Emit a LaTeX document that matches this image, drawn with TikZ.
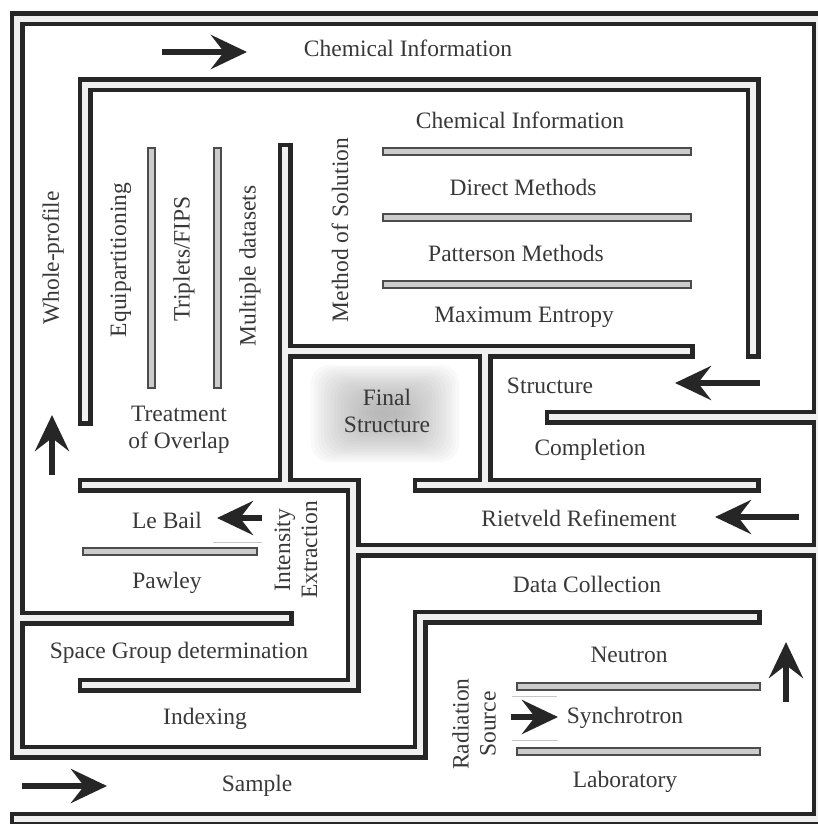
\documentclass[tikz,border=0pt]{standalone}
\usepackage{fontspec}
\setmainfont{Liberation Serif}
\usetikzlibrary{arrows.meta}

% centre lines of the thick maze walls
\newcommand\mazewalls{
  (754,617) -- (420,617) -- (420,752) -- (17,752) -- (17,19) -- (819,19) -- (819,819) -- (17,819)
  (552,417) -- (819,417)
  (85,418) -- (85,85) -- (753,85) -- (753,351)
  (85,485) -- (353,485) -- (353,685) -- (85,685)
  (353,550) -- (819,550)
  (17,618) -- (286,618)
  (285,150) -- (285,485)
  (285,351) -- (687,351)
  (485,351) -- (485,485)
  (420,485) -- (753,485)
}
% centre lines of the thin dividers
\newcommand\mazebars{
  (151,151) -- (151,384)
  (217,151) -- (217,384)
  (386,151) -- (687,151)
  (386,217) -- (687,217)
  (386,284) -- (687,284)
  (86,551) -- (253,551)
  (520,686) -- (756,686)
  (520,751) -- (756,751)
}

\begin{document}
\begin{tikzpicture}[
    x=1pt, y=-1pt,
    wall outer/.style={draw=black!85, line width=15pt, line cap=rect, line join=miter},
    wall inner/.style={draw=gray!12, line width=6.5pt, line cap=rect, line join=miter},
    bar outer/.style={draw=black!70, line width=9pt, line cap=rect},
    bar inner/.style={draw=gray!40, line width=5pt, line cap=rect},
    faint/.style={draw=gray!45, line width=0.8pt},
    arrow/.style={draw=black!85, line width=6pt, -{Stealth[length=36pt, width=34pt, inset=13pt]}},
    txt/.style={font=\fontsize{23.5}{27}\selectfont, text=black!78, inner sep=0pt, align=center},
    vtxt/.style={txt, rotate=90}
]
\useasboundingbox (0,0) rectangle (818,824);

% Glow behind the goal
\foreach \i in {0,...,19}
  \fill[gray!85, opacity=0.05, rounded corners=18pt]
    ({311+\i*3.3},{365+\i*2.2}) rectangle ({459-\i*3.3},{462-\i*2.2});

% Walls
\draw[wall outer] \mazewalls;
\draw[wall inner] \mazewalls;
\draw[bar outer] \mazebars;
\draw[bar inner] \mazebars;

% Faint rules beside the arrows
\draw[faint] (213,542) -- (262,542);
\draw[faint] (512,696) -- (557,696);
\draw[faint] (512,740) -- (558,740);

% Arrows
\draw[arrow] (162,52) -- (247,52);
\draw[arrow] (52,475) -- (52,415);
\draw[arrow] (262,518) -- (217,518);
\draw[arrow] (760,383) -- (675,383);
\draw[arrow] (799,517) -- (715,517);
\draw[arrow] (786,702) -- (786,642);
\draw[arrow] (511,717) -- (558,717);
\draw[arrow] (22,786) -- (107,786);

% Labels
\node[txt] (chemout) at (408,48) {Chemical Information};
\node[txt] (chemin) at (520,120) {Chemical Information};
\node[txt] (direct) at (523,187) {Direct Methods};
\node[txt] (patterson) at (516,253) {Patterson Methods};
\node[txt] (maxent) at (524,317) {Maximum Entropy};
\node[vtxt] (method) at (340,230) {Method of Solution};
\node[vtxt] (whole) at (53,258) {Whole-profile};
\node[vtxt] (equi) at (121,260) {Equipartitioning};
\node[vtxt] (triplets) at (184,259) {Triplets/FIPS};
\node[vtxt] (multiple) at (250,266) {Multiple datasets};
\node[txt] (overlap) at (179,430) {Treatment\\of Overlap};
\node[txt] (final) at (387,411) {Final\\Structure};
\node[txt] (structure) at (550,386) {Structure};
\node[txt] (completion) at (590,450) {Completion};
\node[txt] (lebail) at (167,520) {Le Bail};
\node[vtxt] (intensity) at (296,550) {Intensity\\Extraction};
\node[txt] (rietveld) at (579,518) {Rietveld Refinement};
\node[txt] (pawley) at (167,583) {Pawley};
\node[txt] (datacoll) at (587,584) {Data Collection};
\node[txt] (spacegroup) at (179,653) {Space Group determination};
\node[txt] (neutron) at (629,655) {Neutron};
\node[txt] (indexing) at (205,719) {Indexing};
\node[vtxt] (radiation) at (474,724) {Radiation\\Source};
\node[txt] (synchro) at (625,718) {Synchrotron};
\node[txt] (sample) at (257,786) {Sample};
\node[txt] (lab) at (625,782) {Laboratory};

\end{tikzpicture}
\end{document}
